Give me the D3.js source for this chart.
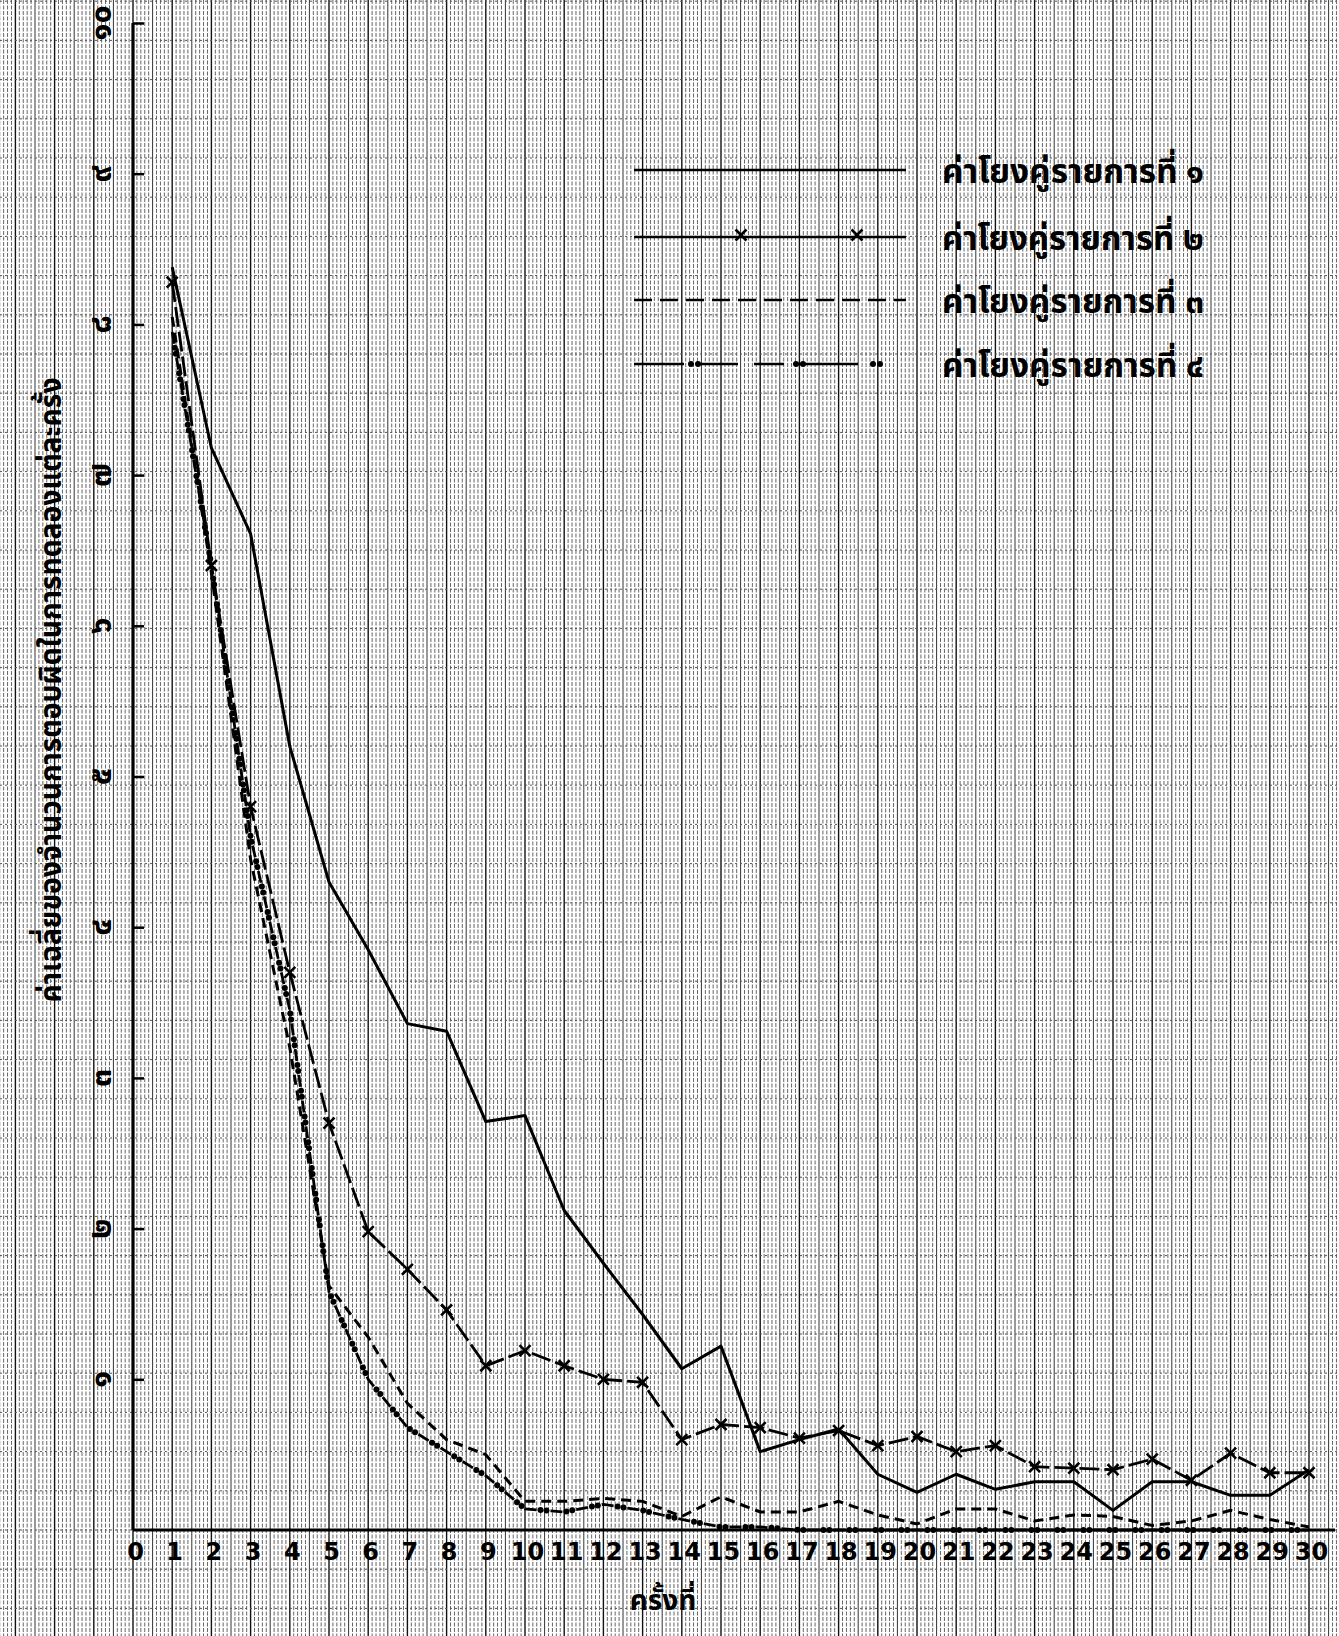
<!DOCTYPE html>
<html>
<head>
<meta charset="utf-8">
<script src="https://d3js.org/d3.v7.min.js"></script>
<style>
body { margin: 0; background: #fff; }
svg { display: block; }
</style>
</head>
<body>
<svg id="chart"></svg>
<script>
// data
let trials = [1, 2, 3, 4, 5, 6, 7, 8, 9, 10, 11, 12, 13, 14, 15, 16, 17, 18, 19, 20, 21, 22, 23, 24, 25, 26, 27, 28, 29, 30];
let pair1 = [8.38, 7.18, 6.61, 5.2, 4.3, 3.85, 3.36, 3.31, 2.71, 2.75, 2.12, 1.77, 1.43, 1.07, 1.22, 0.52, 0.6, 0.67, 0.37, 0.25, 0.37, 0.27, 0.32, 0.32, 0.13, 0.32, 0.32, 0.23, 0.23, 0.4];
let pair2 = [8.28, 6.4, 4.8, 3.7, 2.7, 1.98, 1.73, 1.46, 1.09, 1.19, 1.09, 1.0, 0.98, 0.6, 0.7, 0.68, 0.61, 0.66, 0.56, 0.62, 0.52, 0.56, 0.42, 0.41, 0.4, 0.47, 0.33, 0.51, 0.38, 0.38];
let pair3 = [8.05, 6.35, 4.45, 3.2, 1.62, 1.28, 0.84, 0.6, 0.5, 0.19, 0.19, 0.21, 0.19, 0.09, 0.22, 0.12, 0.12, 0.19, 0.1, 0.04, 0.14, 0.14, 0.06, 0.1, 0.09, 0.03, 0.06, 0.13, 0.07, 0.02];
let pair4 = [7.95, 6.4, 4.6, 3.45, 1.58, 1.0, 0.68, 0.52, 0.36, 0.14, 0.12, 0.17, 0.13, 0.07, 0.02, 0.02, 0, 0, 0, 0, 0, 0, 0, 0, 0, 0, 0, 0, 0, 0];

let xTicks = [0, 1, 2, 3, 4, 5, 6, 7, 8, 9, 10, 11, 12, 13, 14, 15, 16, 17, 18, 19, 20, 21, 22, 23, 24, 25, 26, 27, 28, 29, 30];
let yTicks = [1, 2, 3, 4, 5, 6, 7, 8, 9, 10];
let yTickLabels = ['๑', '๒', '๓', '๔', '๕', '๖', '๗', '๘', '๙', '๑๐'];
let legendLabels = ['ค่าโยงคู่รายการที่ ๑', 'ค่าโยงคู่รายการที่ ๒', 'ค่าโยงคู่รายการที่ ๓', 'ค่าโยงคู่รายการที่ ๔'];
let yTitle = 'ค่าเฉลี่ยของจำนวนการตอบผิดในการทดลองแต่ละครั้ง';
let xTitle = 'ครั้งที่';
</script>

<script>
let W = 1339, H = 1636;
let thai = "'Noto Sans Thai', 'Noto Sans', 'DejaVu Sans', sans-serif";

let svg = d3.select('#chart').attr('width', W).attr('height', H);

let x = d3.scaleLinear().domain([0, 30]).range([133, 1309]);
let y = d3.scaleLinear().domain([0, 10]).range([1530, 23]);

// graph paper
let paper = svg.append('g').attr('id', 'paper');
paper.append('rect').attr('width', W).attr('height', H).attr('fill', '#fff');

let mm = d3.range(-34, 312).map(d => d / 10);
let step = d => Math.round(d * 10);
paper.selectAll('line.vmm')
	.data(mm)
	.enter()
	.append('line')
	.attr('class', 'vmm')
	.attr('x1', d => x(d)).attr('x2', d => x(d))
	.attr('y1', 0).attr('y2', H)
	.attr('stroke', d => (step(d) % 10 === 0) ? '#111' : (step(d) % 5 === 0 ? '#333' : '#666'))
	.attr('stroke-width', d => (step(d) % 10 === 0) ? 1.4 : 1)
	.attr('stroke-dasharray', d => (step(d) % 5 === 0) ? null : '4,1.5');

let cm = d3.range(-3, 40);
paper.selectAll('line.hcm')
	.data(cm)
	.enter()
	.append('line')
	.attr('class', 'hcm')
	.attr('x1', 0).attr('x2', W)
	.attr('y1', d => 1530 - d * 39.2).attr('y2', d => 1530 - d * 39.2)
	.attr('stroke', '#555')
	.attr('stroke-width', 1)
	.attr('stroke-dasharray', '2,3');

// axes
let axes = svg.append('g').attr('id', 'axes');

axes.append('line')
	.attr('x1', x(0)).attr('x2', W - 4)
	.attr('y1', y(0)).attr('y2', y(0))
	.attr('stroke', '#000').attr('stroke-width', 3.2);

axes.append('line')
	.attr('x1', x(0)).attr('x2', x(0))
	.attr('y1', y(10)).attr('y2', y(0))
	.attr('stroke', '#000').attr('stroke-width', 3.2);

let yAxis = axes.append('g')
	.attr('transform', `translate(${x(0)},0)`)
	.call(d3.axisRight(y).tickValues(yTicks).tickSize(11).tickFormat(''));
yAxis.select('.domain').remove();
yAxis.selectAll('.tick line').attr('stroke', '#000').attr('stroke-width', 2.5);

axes.selectAll('text.ylab')
	.data(yTicks)
	.enter()
	.append('text')
	.attr('class', 'ylab')
	.attr('transform', d => `translate(100,${y(d)}) rotate(-90)`)
	.attr('text-anchor', 'middle')
	.attr('dy', '0.35em')
	.attr('font-family', thai)
	.attr('font-weight', 'bold')
	.attr('font-size', 32)
	.text((d, i) => yTickLabels[i]);

let xAxis = axes.append('g')
	.attr('transform', `translate(2,${y(0)})`)
	.call(d3.axisBottom(x).tickValues(xTicks).tickSize(0).tickPadding(13).tickFormat(d => String(d)));
xAxis.select('.domain').remove();
xAxis.selectAll('text')
	.attr('font-family', "'DejaVu Sans', sans-serif")
	.attr('font-weight', 'bold')
	.attr('font-size', 24)
	.attr('fill', '#000');

axes.append('text')
	.attr('transform', `translate(50,690) rotate(-90)`)
	.attr('text-anchor', 'middle')
	.attr('dy', '0.35em')
	.attr('font-family', thai)
	.attr('font-weight', 'bold')
	.attr('font-size', 30)
	.attr('textLength', 625)
	.attr('lengthAdjust', 'spacingAndGlyphs')
	.text(yTitle);

axes.append('text')
	.attr('x', 663).attr('y', 1610)
	.attr('text-anchor', 'middle')
	.attr('font-family', thai)
	.attr('font-weight', 'bold')
	.attr('font-size', 28)
	.text(xTitle);

// series
let line = d3.line().x(d => x(d[0])).y(d => y(d[1]));
let pts = vals => trials.map((t, i) => [t, vals[i]]);

let plot = svg.append('g').attr('id', 'series');

plot.append('path')
	.attr('d', line(pts(pair1)))
	.attr('fill', 'none').attr('stroke', '#000').attr('stroke-width', 3)
	.attr('stroke-linejoin', 'round');

plot.append('path')
	.attr('d', line(pts(pair3)))
	.attr('fill', 'none').attr('stroke', '#000').attr('stroke-width', 3)
	.attr('stroke-dasharray', '10,6');

let p4 = plot.append('path')
	.attr('d', line(pts(pair4)))
	.attr('fill', 'none').attr('stroke', '#000').attr('stroke-width', 2.8)
	.attr('stroke-dasharray', '12,14');
let len4 = p4.node().getTotalLength();
let dots4 = d3.range(16, len4, 26).flatMap(l => [l, l + 6]);
plot.selectAll('circle.p4')
	.data(dots4)
	.enter()
	.append('circle')
	.attr('class', 'p4')
	.attr('cx', l => p4.node().getPointAtLength(l).x)
	.attr('cy', l => p4.node().getPointAtLength(l).y)
	.attr('r', 3)
	.attr('fill', '#000');

plot.append('path')
	.attr('d', line(pts(pair2)))
	.attr('fill', 'none').attr('stroke', '#000').attr('stroke-width', 2.8)
	.attr('stroke-dasharray', '20,5');

let cross = d3.symbol().type(d3.symbolX).size(80);
plot.selectAll('path.x2')
	.data(pts(pair2))
	.enter()
	.append('path')
	.attr('class', 'x2')
	.attr('transform', d => `translate(${x(d[0])},${y(d[1])})`)
	.attr('d', cross)
	.attr('fill', 'none').attr('stroke', '#000').attr('stroke-width', 2.6);

// legend
let legend = svg.append('g').attr('id', 'legend');
let rowsY = [170, 237, 300, 364];
let lx0 = 634, lx1 = 906;

legend.append('line')
	.attr('x1', lx0).attr('x2', lx1).attr('y1', rowsY[0]).attr('y2', rowsY[0])
	.attr('stroke', '#000').attr('stroke-width', 2.6);

legend.append('line')
	.attr('x1', lx0).attr('x2', lx1).attr('y1', rowsY[1]).attr('y2', rowsY[1])
	.attr('stroke', '#000').attr('stroke-width', 2.6);
legend.selectAll('path.lx')
	.data([741, 857])
	.enter()
	.append('path')
	.attr('class', 'lx')
	.attr('transform', d => `translate(${d},${rowsY[1] - 2})`)
	.attr('d', cross)
	.attr('fill', 'none').attr('stroke', '#000').attr('stroke-width', 2.6);

legend.append('line')
	.attr('x1', lx0).attr('x2', lx1).attr('y1', rowsY[2]).attr('y2', rowsY[2])
	.attr('stroke', '#000').attr('stroke-width', 2.6)
	.attr('stroke-dasharray', '18,8');

legend.append('line')
	.attr('x1', lx0).attr('x2', lx1).attr('y1', rowsY[3]).attr('y2', rowsY[3])
	.attr('stroke', '#000').attr('stroke-width', 2.6)
	.attr('stroke-dasharray', '50,16,38,16,30,14,60');
legend.selectAll('circle.ld')
	.data([691, 698, 796, 803, 873, 880])
	.enter()
	.append('circle')
	.attr('class', 'ld')
	.attr('cx', d => d).attr('cy', rowsY[3])
	.attr('r', 3).attr('fill', '#000');

legend.selectAll('text.lt')
	.data(legendLabels)
	.enter()
	.append('text')
	.attr('class', 'lt')
	.attr('x', 942)
	.attr('y', (d, i) => rowsY[i] + 13)
	.attr('font-family', thai)
	.attr('font-weight', 'bold')
	.attr('font-size', 33)
	.attr('textLength', 262)
	.attr('lengthAdjust', 'spacingAndGlyphs')
	.text(d => d);
</script>
</body>
</html>
